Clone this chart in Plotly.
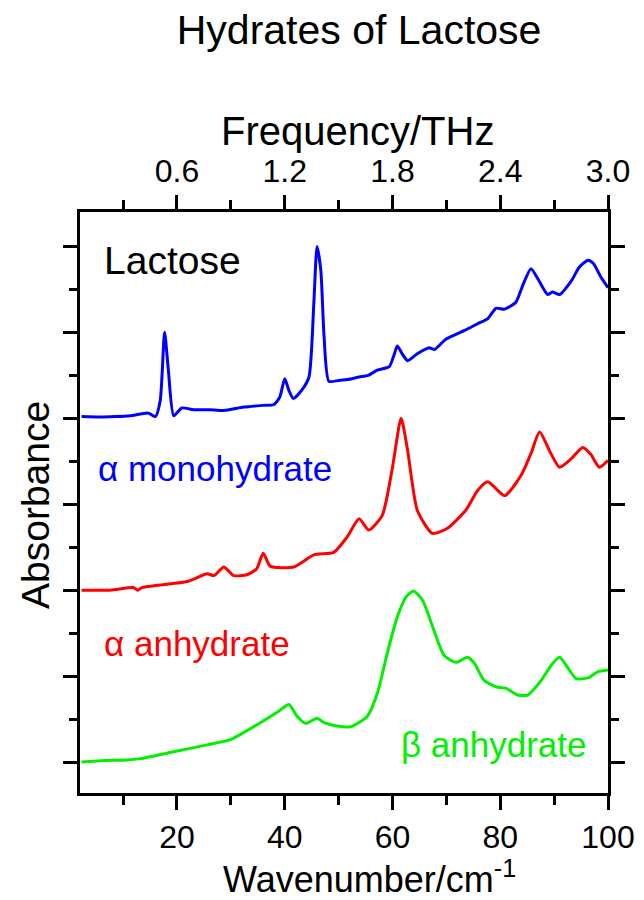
import plotly.graph_objects as go

# THz spectra of lactose forms, curves offset vertically (absorbance, arb. units)
CM_TO_THZ = 0.03   # top axis: 100 cm-1 ~ 3.0 THz

mono_x = [2.3, 5.7, 8.5, 11.3, 14.7, 16.0, 16.9, 17.7, 18.4, 19.4, 20.9, 23.1, 26.0, 28.7,
          32.4, 36.0, 38.0, 39.1, 40.0, 40.8, 41.6, 43.2, 44.5, 45.4, 46.0, 46.7, 47.3, 48.2,
          50.0, 51.6, 53.8, 55.5, 57.2, 59.4, 60.2, 60.9, 61.8, 62.8, 64.6, 66.8, 67.8, 69.9,
          73.3, 75.8, 77.7, 79.2, 80.8, 82.9, 84.2, 85.7, 87.0, 88.8, 89.7, 91.0, 93.2, 94.7,
          96.3, 97.3, 98.7, 100.0]
mono_y = [4.02, 4.015, 4.02, 4.03, 4.06, 4.02, 4.21, 5.00, 4.56, 4.03, 4.12, 4.10, 4.10, 4.09,
          4.13, 4.15, 4.16, 4.25, 4.46, 4.32, 4.23, 4.33, 4.48, 5.34, 6.00, 5.72, 4.95, 4.43,
          4.44, 4.45, 4.48, 4.50, 4.56, 4.60, 4.72, 4.84, 4.75, 4.67, 4.75, 4.82, 4.80, 4.92,
          5.02, 5.10, 5.16, 5.28, 5.27, 5.35, 5.55, 5.74, 5.62, 5.44, 5.47, 5.44, 5.60, 5.76,
          5.84, 5.80, 5.64, 5.52]

alpha_x = [2.3, 7.6, 11.9, 12.7, 13.5, 16.9, 21.9, 25.6, 26.9, 28.7, 30.5, 33.0, 34.8, 36.0,
           37.3, 41.7, 45.4, 49.1, 51.6, 53.8, 55.6, 58.1, 60.0, 61.6, 62.8, 64.6, 67.4, 70.2,
           73.6, 75.8, 77.7, 80.8, 83.9, 85.7, 87.3, 89.4, 91.0, 93.2, 95.3, 96.8, 98.4, 100.0]
alpha_y = [2.00, 2.00, 2.03, 2.00, 2.03, 2.06, 2.10, 2.19, 2.17, 2.27, 2.17, 2.18, 2.25, 2.43,
           2.28, 2.27, 2.41, 2.44, 2.62, 2.83, 2.70, 2.87, 3.43, 4.00, 3.63, 2.93, 2.66, 2.72,
           2.93, 3.16, 3.26, 3.10, 3.34, 3.59, 3.84, 3.59, 3.43, 3.53, 3.66, 3.58, 3.43, 3.51]

beta_x = [2.3, 4.4, 7.6, 10.7, 13.2, 19.4, 25.6, 29.9, 34.2, 38.6, 40.8, 42.3, 43.9, 46.0, 47.3,
          49.7, 52.2, 55.3, 57.2, 59.0, 60.9, 62.5, 63.9, 65.6, 67.7, 69.6, 71.8, 73.9, 75.2, 77.0,
          79.5, 81.0, 83.2, 85.1, 87.6, 89.5, 91.0, 92.5, 94.1, 96.3, 98.1, 100.0]
beta_y = [0.00, 0.01, 0.02, 0.025, 0.04, 0.12, 0.20, 0.26, 0.41, 0.58, 0.67, 0.53, 0.45, 0.51, 0.46,
          0.42, 0.41, 0.53, 0.80, 1.26, 1.69, 1.92, 1.99, 1.88, 1.53, 1.24, 1.16, 1.22, 1.15, 0.95,
          0.87, 0.86, 0.78, 0.78, 0.95, 1.13, 1.22, 1.10, 0.97, 0.98, 1.05, 1.07]

wn_ticks = [20, 40, 60, 80, 100]
wn_minor = [10, 30, 50, 70, 90]
thz_ticks = [0.6, 1.2, 1.8, 2.4, 3.0]
thz_labels = ["0.6", "1.2", "1.8", "2.4", "3.0"]
thz_minor = [0.3, 0.9, 1.5, 2.1, 2.7]
abs_ticks = [0, 1, 2, 3, 4, 5, 6]
abs_minor = [0.5, 1.5, 2.5, 3.5, 4.5, 5.5]

x_range = [2, 100]
font = "Liberation Sans, Arial, sans-serif"

fig = go.Figure()
for xs, ys, col in [(mono_x, mono_y, "#0000ff"), (alpha_x, alpha_y, "#ff0000"), (beta_x, beta_y, "#00f000")]:
    fig.add_trace(go.Scatter(x=xs, y=ys, mode="lines",
                             line=dict(color=col, width=3, shape="spline", smoothing=0.6)))
# empty trace so the top (THz) axis gets drawn
fig.add_trace(go.Scatter(x=[None], y=[None], xaxis="x2", hoverinfo="skip"))

labels = [
    ("Lactose", 6.0, 5.84, "black", 39),
    ("α monohydrate", 5.0, 3.42, "#0000ff", 35),
    ("α anhydrate", 6.0, 1.38, "#ff0000", 35),
    ("β anhydrate", 61.2, 0.2, "#00f000", 35),
]
for txt, lx, ly, col, sz in labels:
    fig.add_annotation(x=lx, y=ly, text=txt, showarrow=False, xanchor="left", yanchor="middle",
                       font=dict(color=col, size=sz, family=font))

# axis titles placed as paper annotations
fig.add_annotation(x=0.525, y=1.139, xref="paper", yref="paper", text="Frequency/THz",
                   showarrow=False, xanchor="center", yanchor="middle", font=dict(size=40))
fig.add_annotation(x=0.549, y=-0.144, xref="paper", yref="paper", text="Wavenumber/cm<sup>-1</sup>",
                   showarrow=False, xanchor="center", yanchor="middle", font=dict(size=36))
fig.add_annotation(x=-0.083, y=0.496, xref="paper", yref="paper", text="Absorbance", textangle=-90,
                   showarrow=False, xanchor="center", yanchor="middle", font=dict(size=39))

axis_common = dict(showline=True, linewidth=3, linecolor="black", showgrid=False, zeroline=False,
                   ticks="outside", ticklen=14, tickwidth=3, tickcolor="black", automargin=False)

# page body has an 8px margin, so the figure is 8px smaller each way
fig.update_layout(
    width=636, height=892,
    margin=dict(l=72, r=36, t=204, b=107),
    paper_bgcolor="white", plot_bgcolor="white",
    showlegend=False,
    font=dict(family=font, color="black"),
    title=dict(text="Hydrates of Lactose", x=0.552, xanchor="center", y=0.9753, yanchor="middle",
               font=dict(size=41), automargin=False),
    xaxis=dict(range=x_range, tickvals=wn_ticks, tickfont=dict(size=32),
               minor=dict(tickvals=wn_minor, ticklen=9, tickwidth=3, ticks="outside", tickcolor="black"),
               **axis_common),
    xaxis2=dict(range=[x_range[0] * CM_TO_THZ, x_range[1] * CM_TO_THZ], overlaying="x", side="top",
                anchor="y", tickvals=thz_ticks, ticktext=thz_labels, tickfont=dict(size=32),
                minor=dict(tickvals=thz_minor, ticklen=9, tickwidth=3, ticks="outside", tickcolor="black"),
                **axis_common),
    yaxis=dict(range=[-0.36, 6.4], tickvals=abs_ticks, showticklabels=False, mirror="ticks",
               minor=dict(tickvals=abs_minor, ticklen=8, tickwidth=3, ticks="outside", tickcolor="black"),
               **axis_common),
)

fig.write_html("out.html")
